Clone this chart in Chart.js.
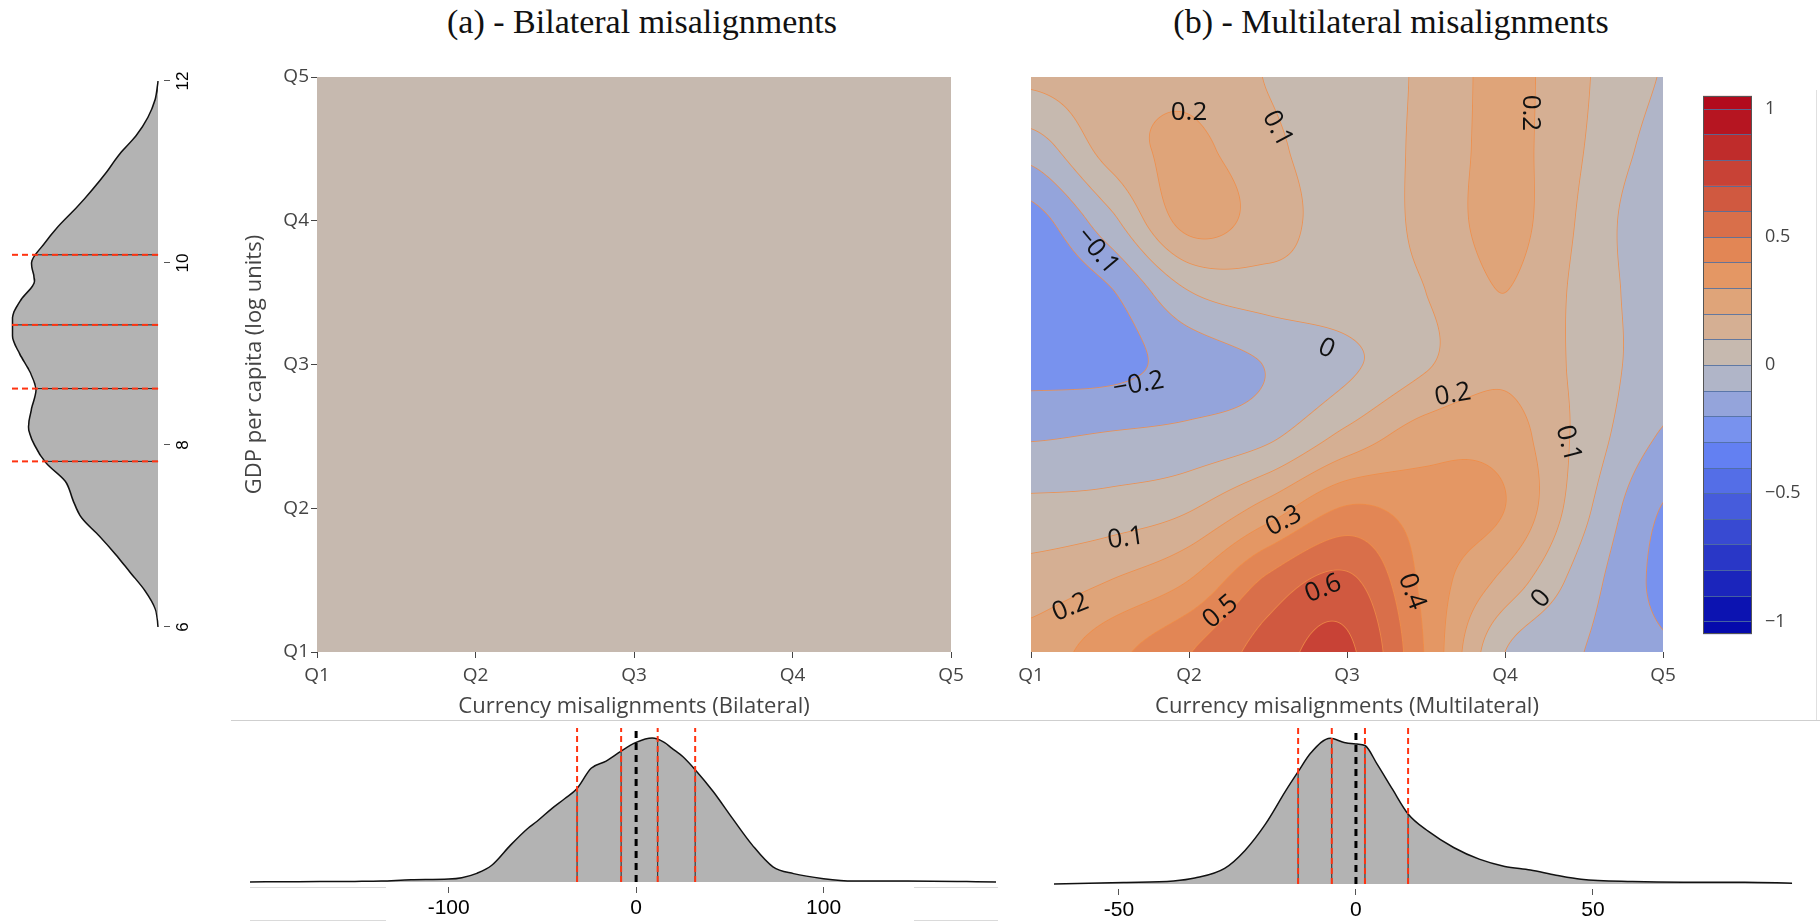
<!DOCTYPE html>
<html>
<head>
<meta charset="utf-8">
<script src="https://cdn.jsdelivr.net/npm/chart.js@4.4.1/dist/chart.umd.min.js"></script>
<style>
  body { margin: 0; width: 1820px; height: 923px; background: #fff; position: relative; overflow: hidden; }
  .box { position: absolute; }
  .title { position: absolute; font-family: "Liberation Serif", serif; font-size: 34px; line-height: 34px; color: #111; white-space: nowrap; transform: translateX(-50%); }
  .rule { position: absolute; background: #cfcfcf; }
</style>
</head>
<body>
<div class="title" style="left:642px; top:5px;">(a) - Bilateral misalignments</div>
<div class="title" style="left:1391px; top:5px;">(b) - Multilateral misalignments</div>

<div class="box" style="left:0; top:657px; width:600px; height:200px; transform:rotate(-90deg); transform-origin:0 0;">
  <canvas id="gdpChart" width="600" height="200"></canvas>
</div>
<div class="box" style="left:190px; top:55px;"><canvas id="bilatMap" width="800" height="665"></canvas></div>
<div class="box" style="left:990px; top:55px;"><canvas id="multiMap" width="700" height="665"></canvas></div>
<div class="box" style="left:1685px; top:80px;"><canvas id="colorbar" width="125" height="570"></canvas></div>
<div class="box" style="left:230px; top:722px;"><canvas id="bilatDens" width="780" height="201"></canvas></div>
<div class="box" style="left:1030px; top:722px;"><canvas id="multiDens" width="790" height="201"></canvas></div>

<div class="rule" style="left:231px; top:720px; width:1589px; height:1px;"></div>
<div class="rule" style="left:1816px; top:90px; width:1px; height:630px; background:#e0e0e0;"></div>
<div class="rule" style="left:250px; top:887px; width:136px; height:1px; background:#dadada;"></div>
<div class="rule" style="left:914px; top:887px; width:84px; height:1px; background:#dadada;"></div>
<div class="rule" style="left:250px; top:920px; width:136px; height:1px; background:#dadada;"></div>
<div class="rule" style="left:914px; top:920px; width:84px; height:1px; background:#dadada;"></div>

<script>
// ---- data ----
const quintiles = ['Q1', 'Q2', 'Q3', 'Q4', 'Q5'];

// GDP per capita (log units) density, left margin
const gdpX = [6.0, 6.2, 6.4, 6.6, 6.8, 7.0, 7.2, 7.4, 7.6, 7.8, 8.0, 8.2, 8.4, 8.6, 8.8, 9.0, 9.2, 9.4, 9.6, 9.8, 10.0, 10.2, 10.4, 10.6, 10.8, 11.0, 11.2, 11.4, 11.6, 11.8, 12.0];
const gdpDensity = [0.0, 0.02, 0.09, 0.19, 0.29, 0.40, 0.52, 0.58, 0.63, 0.76, 0.84, 0.88, 0.86, 0.83, 0.87, 0.94, 0.99, 0.99, 0.93, 0.84, 0.86, 0.78, 0.68, 0.56, 0.45, 0.35, 0.26, 0.15, 0.07, 0.02, 0.0];
const gdpQuantiles = [7.82, 8.62, 9.32, 10.09];
const gdpQuantileHeights = [0.77, 0.83, 0.99, 0.85];
const gdpTicks = [6, 8, 10, 12];

// bilateral misalignment density
const bilatX = [-206, -180, -150, -136, -120, -100, -93, -85, -77, -67, -58, -53, -45, -38, -31.5, -24, -16, -8, 0, 8.6, 15, 19, 25, 31.5, 41, 51.5, 62, 73, 84, 100, 116, 145, 192];
const bilatDensity = [0, 0.002, 0.004, 0.006, 0.015, 0.02, 0.03, 0.06, 0.116, 0.256, 0.37, 0.42, 0.51, 0.58, 0.65, 0.79, 0.84, 0.91, 0.97, 1.0, 0.97, 0.93, 0.87, 0.78, 0.63, 0.44, 0.256, 0.105, 0.058, 0.023, 0.007, 0.007, 0];
const bilatQuantiles = [-31.5, -8, 11.5, 31.5];
const bilatQuantileHeights = [0.65, 0.91, 0.99, 0.78];
const bilatTicks = [-100, 0, 100];

// multilateral misalignment density
const multiX = [-63.7, -49, -38.5, -34, -27.7, -23.4, -19.1, -14.8, -12.2, -9.5, -5.4, -2.5, 0.2, 1.9, 4.5, 7.7, 11, 15.3, 20.6, 26, 31.4, 36.8, 42.2, 47.5, 58.3, 69, 82, 92];
const multiDensity = [0, 0.01, 0.02, 0.04, 0.107, 0.23, 0.41, 0.64, 0.77, 0.90, 1.0, 0.97, 0.96, 0.95, 0.82, 0.65, 0.48, 0.36, 0.25, 0.17, 0.12, 0.095, 0.06, 0.032, 0.016, 0.011, 0.011, 0.005];
const multiQuantiles = [-12.2, -5.1, 1.9, 11.0];
const multiQuantileHeights = [0.77, 1.0, 0.94, 0.48];
const multiTicks = [-50, 0, 50];

// effect surfaces: rows Q5 (top) -> Q1 (bottom), columns Q1 -> Q5
const bilateralZ = [
  [0.05, 0.05, 0.05, 0.05, 0.05],
  [0.05, 0.05, 0.05, 0.05, 0.05],
  [0.05, 0.05, 0.05, 0.05, 0.05],
  [0.05, 0.05, 0.05, 0.05, 0.05],
  [0.05, 0.05, 0.05, 0.05, 0.05]
];
const multilateralZ = [
  [ 0.12,  0.16,  0.18,  0.095, 0.05,  0.12,  0.23,  0.11,  -0.005],
  [-0.055, 0.14,  0.22,  0.125, 0.05,  0.125, 0.23,  0.10,  -0.04],
  [-0.24, -0.03,  0.235, 0.15,  0.055, 0.125, 0.235, 0.08,  -0.09],
  [-0.27, -0.21, -0.005, 0.05,  0.06,  0.10,  0.20,  0.067, -0.06],
  [-0.24, -0.23, -0.16, -0.095, -0.02, 0.09,  0.18,  0.07,  -0.06],
  [-0.11, -0.09, -0.07, -0.02,  0.13,  0.25,  0.25,  0.065, -0.11],
  [ 0.027, 0.04,  0.09,  0.24,  0.41,  0.35,  0.30,  0.025, -0.205],
  [ 0.14,  0.20,  0.30,  0.52,  0.62,  0.37,  0.17, -0.05,  -0.225],
  [ 0.24,  0.365, 0.495, 0.645, 0.72,  0.39,  0.0,  -0.10,  -0.19]
];
const contourLevels = [-1, -0.9, -0.8, -0.7, -0.6, -0.5, -0.4, -0.3, -0.2, -0.1, 0, 0.1, 0.2, 0.3, 0.4, 0.5, 0.6, 0.7, 0.8, 0.9, 1];
const colorbarTicks = [-1, -0.5, 0, 0.5, 1];
// contour labels: text, x (quintile), y (quintile), angle
const contourLabels = [
  ['0.2', 2.0, 4.75, 0], ['0.1', 2.56, 4.64, 62], ['\u22120.1', 1.42, 3.79, 50],
  ['0', 2.87, 3.11, 25], ['\u22120.2', 1.68, 2.86, -10], ['0.1', 1.6, 1.79, -8],
  ['0.2', 1.25, 1.31, -22], ['0.3', 2.6, 1.91, -28], ['0.5', 2.2, 1.28, -40],
  ['0.6', 2.85, 1.44, -22], ['0.2', 3.67, 2.79, -10], ['0.1', 4.4, 2.45, 75],
  ['0.4', 3.41, 1.42, 70], ['0', 4.23, 1.37, -50], ['0.2', 4.16, 4.75, 90]
];

// ---- helpers ----
const Z_MIN = -1, Z_MAX = 1, LEVEL_STEP = 0.1;
const RDBU = [[0, [5, 10, 172]], [0.35, [106, 137, 247]], [0.5, [190, 190, 190]], [0.6, [220, 170, 132]], [0.7, [230, 145, 90]], [1, [178, 10, 28]]];
const LINE_RGB = [240, 140, 70];

function scaleColor(f) {
  f = Math.max(0, Math.min(1, f));
  for (let i = 1; i < RDBU.length; i++) {
    if (f <= RDBU[i][0]) {
      const [f0, c0] = RDBU[i - 1], [f1, c1] = RDBU[i];
      const t = (f - f0) / (f1 - f0);
      return c0.map((v, k) => Math.round(v + (c1[k] - v) * t));
    }
  }
  return RDBU[RDBU.length - 1][1];
}
function bandColor(lo) {
  const mid = Math.max(Z_MIN, Math.min(Z_MAX, lo + LEVEL_STEP / 2));
  return scaleColor((mid - Z_MIN) / (Z_MAX - Z_MIN));
}
const bandCache = {};
function bandRGB(v) {
  const idx = Math.floor(v / LEVEL_STEP + 1e-9);
  if (!(idx in bandCache)) bandCache[idx] = bandColor(idx * LEVEL_STEP);
  return bandCache[idx];
}
const rgb = c => `rgb(${c[0]},${c[1]},${c[2]})`;

function cr(p0, p1, p2, p3, t) {
  return p1 + 0.5 * t * (p2 - p0 + t * (2 * p0 - 5 * p1 + 4 * p2 - p3 + t * (3 * (p1 - p2) + p3 - p0)));
}
function sampleGrid(grid, gx, gy) {
  const nr = grid.length, nc = grid[0].length;
  const ix = Math.max(0, Math.min(Math.floor(gx), nc - 2)), iy = Math.max(0, Math.min(Math.floor(gy), nr - 2));
  const tx = gx - ix, ty = gy - iy;
  const g = (r, c) => grid[Math.max(0, Math.min(nr - 1, r))][Math.max(0, Math.min(nc - 1, c))];
  const rows = [];
  for (let m = -1; m <= 2; m++) rows.push(cr(g(iy + m, ix - 1), g(iy + m, ix), g(iy + m, ix + 1), g(iy + m, ix + 2), tx));
  return cr(rows[0], rows[1], rows[2], rows[3], ty);
}

const zfield = {
  id: 'zfield',
  beforeDatasetsDraw(chart, args, opts) {
    const grid = opts.grid;
    if (!grid) return;
    const {ctx, chartArea: a, scales: {x: xs, y: ys}} = chart;
    const x0 = Math.round(a.left), y0 = Math.round(a.top);
    const w = Math.round(a.right) - x0, h = Math.round(a.bottom) - y0;
    const nr = grid.length, nc = grid[0].length;
    const z = new Float32Array(w * h);
    for (let j = 0; j < h; j++) {
      const gy = (ys.max - ys.getValueForPixel(y0 + j + 0.5)) / (ys.max - ys.min) * (nr - 1);
      for (let i = 0; i < w; i++) {
        const gx = (xs.getValueForPixel(x0 + i + 0.5) - xs.min) / (xs.max - xs.min) * (nc - 1);
        z[j * w + i] = sampleGrid(grid, gx, gy);
      }
    }
    const img = ctx.createImageData(w, h);
    const d = img.data;
    for (let j = 0; j < h; j++) {
      for (let i = 0; i < w; i++) {
        const k = j * w + i, v = z[k];
        const c = bandRGB(v);
        let r = c[0], g = c[1], b = c[2];
        const il = Math.max(i - 1, 0), ir = Math.min(i + 1, w - 1);
        const jt = Math.max(j - 1, 0), jb = Math.min(j + 1, h - 1);
        const dx = (z[j * w + ir] - z[j * w + il]) / (ir - il);
        const dy = (z[jb * w + i] - z[jt * w + i]) / (jb - jt);
        const gm = Math.hypot(dx, dy);
        if (gm > 1e-7) {
          const lv = Math.round(v / LEVEL_STEP) * LEVEL_STEP;
          if (lv >= Z_MIN - 1e-6 && lv <= Z_MAX + 1e-6) {
            const t = Math.max(0, 1 - Math.abs(v - lv) / gm / 0.9) * 0.8;
            r += (LINE_RGB[0] - r) * t; g += (LINE_RGB[1] - g) * t; b += (LINE_RGB[2] - b) * t;
          }
        }
        d[4 * k] = r; d[4 * k + 1] = g; d[4 * k + 2] = b; d[4 * k + 3] = 255;
      }
    }
    ctx.putImageData(img, x0, y0);
  },
  afterDatasetsDraw(chart, args, opts) {
    if (!opts.labels) return;
    const {ctx, scales: {x: xs, y: ys}} = chart;
    ctx.save();
    ctx.font = '26px "Open Sans", sans-serif';
    ctx.fillStyle = '#111';
    ctx.textAlign = 'center';
    ctx.textBaseline = 'middle';
    opts.labels.forEach(([t, qx, qy, ang]) => {
      ctx.save();
      ctx.translate(xs.getPixelForValue(qx), ys.getPixelForValue(qy));
      ctx.rotate(ang * Math.PI / 180);
      ctx.fillText(t, 0, 0);
      ctx.restore();
    });
    ctx.restore();
  }
};

const colorbarFrame = {
  id: 'cbframe',
  afterDatasetsDraw(chart) {
    const {ctx, chartArea: a, scales: {y}} = chart;
    ctx.save();
    ctx.lineWidth = 1;
    ctx.strokeStyle = 'rgba(80,110,160,0.85)';
    contourLevels.forEach(l => {
      const py = Math.round(y.getPixelForValue(l)) + 0.5;
      ctx.beginPath(); ctx.moveTo(a.left, py); ctx.lineTo(a.right, py); ctx.stroke();
    });
    ctx.strokeStyle = '#555';
    ctx.strokeRect(Math.round(a.left) + 0.5, Math.round(a.top) + 0.5, Math.round(a.right - a.left) - 1, Math.round(a.bottom - a.top) - 1);
    ctx.restore();
  }
};

function pts(xs, ys) { return xs.map((x, i) => ({x, y: ys[i]})); }
function densitySets(xs, ys, qs, qh, top, withZero) {
  const sets = [{
    data: pts(xs, ys), borderColor: '#111', borderWidth: 1.5, backgroundColor: '#b3b3b3',
    fill: 'origin', pointRadius: 0, cubicInterpolationMode: 'monotone', order: 10
  }];
  qs.forEach((q, i) => {
    sets.push({data: [{x: q, y: 0}, {x: q, y: qh[i]}], borderColor: '#222', borderWidth: 1, pointRadius: 0, fill: false, order: 5});
    sets.push({data: [{x: q, y: 0}, {x: q, y: top}], borderColor: '#ff3311', borderWidth: 2, borderDash: [6, 4], pointRadius: 0, fill: false, order: 2});
  });
  if (withZero) {
    sets.push({data: [{x: 0, y: 0}, {x: 0, y: top}], borderColor: '#000', borderWidth: 3, borderDash: [7, 5], pointRadius: 0, fill: false, order: 1});
  }
  return sets;
}

Chart.defaults.font.family = '"Open Sans", sans-serif';
const base = {
  responsive: false, animation: false, devicePixelRatio: 1, events: [],
  plugins: {legend: {display: false}, tooltip: {enabled: false}}
};
const rFont = {family: '"Liberation Sans", Arial, sans-serif', size: 18};

function densityChart(id, xs, ys, qs, qh, ticks, min, max, pad, axisH, yMin, yMax, fontSize, withZero) {
  new Chart(document.getElementById(id), {
    type: 'line',
    data: {datasets: densitySets(xs, ys, qs, qh, yMax, withZero)},
    options: {
      ...base,
      layout: {padding: pad},
      scales: {
        x: {
          type: 'linear', min, max,
          afterBuildTicks: s => { s.ticks = ticks.map(v => ({value: v})); },
          afterFit: s => { s.height = axisH; },
          ticks: {color: '#000', font: {...rFont, size: fontSize}, padding: 3, maxRotation: 0},
          grid: {drawOnChartArea: false, tickLength: 6, color: '#555'},
          border: {display: false}
        },
        y: {min: yMin, max: yMax, display: false}
      }
    }
  });
}

densityChart('gdpChart', gdpX, gdpDensity, gdpQuantiles, gdpQuantileHeights, gdpTicks, 6, 12,
  {left: 30, right: 24, top: 8, bottom: 8}, 28, -0.04, 1.02, 17, false);
densityChart('bilatDens', bilatX, bilatDensity, bilatQuantiles, bilatQuantileHeights, bilatTicks, -206, 192,
  {left: 20, right: 14, top: 6, bottom: 4}, 32, -0.035, 1.07, 21, true);
densityChart('multiDens', multiX, multiDensity, multiQuantiles, multiQuantileHeights, multiTicks, -63.7, 92.2,
  {left: 24, right: 27, top: 6, bottom: 2}, 32, -0.035, 1.07, 21, true);

function mapChart(id, grid, xTitle, showY, pad, labels) {
  new Chart(document.getElementById(id), {
    type: 'scatter',
    data: {datasets: []},
    options: {
      ...base,
      layout: {padding: pad},
      scales: {
        x: {
          type: 'linear', min: 1, max: 5,
          afterBuildTicks: s => { s.ticks = quintiles.map((q, i) => ({value: i + 1})); },
          afterFit: s => { s.height = 68; },
          ticks: {callback: v => quintiles[v - 1], color: '#444', font: {size: 19}, padding: 6, maxRotation: 0},
          grid: {drawOnChartArea: false, tickLength: 6, color: '#444'},
          border: {display: false},
          title: {display: true, text: xTitle, color: '#444', font: {size: 22}, padding: {top: 0, bottom: 0}}
        },
        y: {
          type: 'linear', min: 1, max: 5, display: showY,
          afterBuildTicks: s => { s.ticks = quintiles.map((q, i) => ({value: i + 1})); },
          afterFit: s => { if (showY) s.width = 127; },
          ticks: {callback: v => quintiles[v - 1], color: '#444', font: {size: 19}, padding: 2},
          grid: {drawOnChartArea: false, tickLength: 6, color: '#444'},
          border: {display: false},
          title: {display: true, text: 'GDP per capita (log units)', color: '#444', font: {size: 22}, padding: {top: 52, bottom: 0}}
        }
      },
      plugins: {...base.plugins, zfield: {grid, labels}}
    },
    plugins: [zfield]
  });
}

mapChart('bilatMap', bilateralZ, 'Currency misalignments (Bilateral)', true, {left: 0, right: 39, top: 22, bottom: 0}, null);
mapChart('multiMap', multilateralZ, 'Currency misalignments (Multilateral)', false, {left: 41, right: 27, top: 22, bottom: 0}, contourLabels);

// colorbar
const colorbarBands = [[-1.05, contourLevels[0]]];
for (let i = 0; i < contourLevels.length - 1; i++) colorbarBands.push([contourLevels[i], contourLevels[i + 1]]);
colorbarBands.push([contourLevels[contourLevels.length - 1], 1.05]);

new Chart(document.getElementById('colorbar'), {
  type: 'bar',
  data: {
    labels: ['cb'],
    datasets: [{
      data: colorbarBands.map(b => ({x: 'cb', y: b})),
      backgroundColor: colorbarBands.map(b => rgb(bandColor(b[0]))),
      borderWidth: 0, barThickness: 49
    }]
  },
  options: {
    ...base,
    layout: {padding: {left: 18, right: 0, top: 10, bottom: 10}},
    scales: {
      x: {display: false},
      y: {
        position: 'right', min: -1.05, max: 1.05,
        afterBuildTicks: s => { s.ticks = colorbarTicks.map(v => ({value: v})); },
        afterFit: s => { s.width = 58; },
        ticks: {callback: v => (v < 0 ? '\u2212' + Math.abs(v) : String(v)), color: '#444', font: {size: 18}, padding: 5},
        grid: {display: false},
        border: {display: false}
      }
    }
  },
  plugins: [colorbarFrame]
});
</script>
</body>
</html>
